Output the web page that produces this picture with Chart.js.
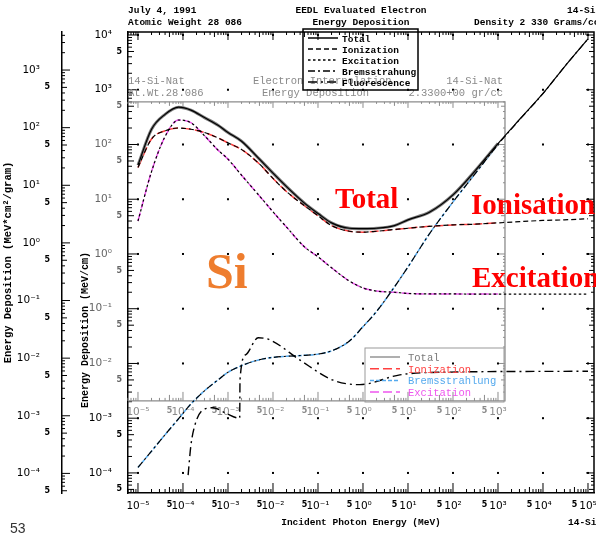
<!DOCTYPE html>
<html>
<head>
<meta charset="utf-8">
<script src="https://cdn.jsdelivr.net/npm/chart.js@4.4.1/dist/chart.umd.min.js"></script>
<style>
  html, body { margin: 0; padding: 0; background: #fff; }
</style>
</head>
<body>
<canvas id="edep" width="596" height="533"></canvas>
<script>
// incident electron energy grid (MeV) for the main components
const energy = [1e-5, 2e-5, 4e-5, 8e-5, 1.5e-4, 3e-4, 6e-4, 1e-3, 2e-3, 5e-3, 1e-2, 2e-2, 5e-2, 0.1, 0.2, 0.5, 1, 2, 5, 10, 30, 100, 300, 1000, 3000, 1e4, 3e4, 1e5];

// energy deposition in MeV/cm
const total = [42, 190, 355, 480, 425, 310, 225, 166, 115, 54, 30, 17, 8.5, 5.5, 3.7, 2.95, 2.9, 2.95, 3.3, 4.2, 5.8, 12, 32, 104, 286, 855, 2630, 8500];
const ionization = [38, 126, 178, 200, 190, 166, 132, 107, 81, 44, 24, 13.8, 7.6, 5.0, 3.3, 2.6, 2.5, 2.6, 2.8, 2.95, 3.2, 3.4, 3.5, 3.7, 3.9, 4.1, 4.2, 4.4];
const excitation = [4.0, 32, 140, 280, 250, 145, 79, 54, 27.5, 11.5, 5.9, 3.1, 1.35, 0.89, 0.56, 0.32, 0.24, 0.21, 0.2, 0.19, 0.186, 0.186, 0.185, 0.185, 0.185, 0.185, 0.185, 0.185];
const bremsstrahlung = [1.26e-4, 2.5e-4, 5.0e-4, 9.8e-4, 1.82e-3, 3.16e-3, 5.0e-3, 6.9e-3, 9.1e-3, 1.17e-2, 1.29e-2, 1.35e-2, 1.41e-2, 1.48e-2, 1.7e-2, 2.57e-2, 4.7e-2, 8.9e-2, 0.25, 0.58, 2.34, 8.9, 28.2, 100, 282, 851, 2630, 8510];

// fluorescence starts later and jumps at the K edge
const fluorEnergy = [1.3e-4, 1.5e-4, 1.85e-4, 2.75e-4, 4.7e-4, 8.5e-4, 1.82e-3, 1.85e-3, 2.5e-3, 4.7e-3, 8.5e-3, 4e-2, 0.21, 0.85, 6.6, 51, 1e5];
const fluorescence = [9.1e-5, 3.2e-4, 7.6e-4, 1.41e-3, 1.55e-3, 1.26e-3, 1.0e-3, 5.0e-3, 1.45e-2, 2.95e-2, 2.7e-2, 1.15e-2, 5.0e-3, 4.1e-3, 6.2e-3, 6.9e-3, 7.2e-3];

// the interpolated set only goes up to this energy (MeV)
const innerMaxEnergy = 1000;
// inner plot frame, in data units
const innerFrame = { xMax: 1430, yMin: 2.07e-3, yMax: 600 };

const SUP = { '-': '\u207B', '0': '\u2070', '1': '\u00B9', '2': '\u00B2', '3': '\u00B3', '4': '\u2074', '5': '\u2075', '6': '\u2076', '7': '\u2077', '8': '\u2078', '9': '\u2079' };

function splitLog(v) {
  const e = Math.floor(Math.log10(v) + 1e-9);
  return { e, m: Math.round(v / Math.pow(10, e)) };
}
function powLabel(e) {
  return '10' + String(e).split('').map(c => SUP[c]).join('');
}
function tickLabel(v, pad) {
  const { e, m } = splitLog(v);
  if (m === 1) return powLabel(e) + (pad || '');
  if (m === 5) return '5';
  return '';
}
// decade labels normal, the "5" labels small and bold
function tickFont(c) {
  const five = c.tick && splitLog(c.tick.value).m === 5;
  return five ? { family: 'DejaVu Sans', size: 8, weight: 'bold' } : { family: 'DejaVu Sans', size: 10.5 };
}
// 1..9 x 10^n ticks over the scale range
function logTicks(scale) {
  const ticks = [];
  const lo = Math.floor(Math.log10(scale.min)), hi = Math.ceil(Math.log10(scale.max));
  for (let e = lo; e <= hi; e++) {
    for (let m = 1; m <= 9; m++) {
      const v = m * Math.pow(10, e);
      if (v >= scale.min && v <= scale.max) ticks.push({ value: v, major: m === 1 });
    }
  }
  scale.ticks = ticks;
}
function noPad(s) {
  s.paddingLeft = 0; s.paddingRight = 0; s.paddingTop = 0; s.paddingBottom = 0;
}

const pts = (xs, ys) => xs.map((e, i) => ({ x: e, y: ys[i] }));
const innerPts = (xs, ys) => pts(xs, ys).filter(p => p.x <= innerMaxEnergy);

const MONO = '"Liberation Mono", "DejaVu Sans Mono", monospace';

function line(label, data, color, width, dash) {
  return {
    label, data,
    borderColor: color, borderWidth: width, borderDash: dash,
    pointRadius: 0, fill: false, cubicInterpolationMode: 'monotone'
  };
}

function drawTicks(ctx, scale, fixed, dir, horizontal, lens, lo, hi) {
  scale.ticks.forEach(t => {
    if (t.value < lo || t.value > hi) return;
    const p = scale.getPixelForValue(t.value);
    const { m } = splitLog(t.value);
    const len = m === 1 ? lens[0] : (m === 5 ? lens[1] : lens[2]);
    ctx.beginPath();
    if (horizontal) { ctx.moveTo(p, fixed); ctx.lineTo(p, fixed + dir * len); }
    else { ctx.moveTo(fixed, p); ctx.lineTo(fixed + dir * len, p); }
    ctx.stroke();
  });
}

function text(ctx, s, x, y, font, color, align) {
  ctx.font = font;
  ctx.fillStyle = color;
  ctx.textAlign = align || 'left';
  ctx.textBaseline = 'alphabetic';
  ctx.fillText(s, x, y);
}

const decor = {
  id: 'decor',
  beforeDatasetsDraw(chart) {
    const { ctx, chartArea: a, scales } = chart;
    const { x, y, y2 } = scales;
    ctx.save();

    // outer frame, top and right
    ctx.strokeStyle = '#000';
    ctx.lineWidth = 1.5;
    ctx.beginPath();
    ctx.moveTo(a.left, a.top); ctx.lineTo(a.right, a.top); ctx.lineTo(a.right, a.bottom);
    ctx.stroke();

    // inward ticks on the outer frame
    ctx.lineWidth = 1;
    drawTicks(ctx, x, a.bottom, -1, true, [10, 6, 4], x.min, x.max);
    drawTicks(ctx, x, a.top, 1, true, [8, 5, 3], x.min, x.max);
    drawTicks(ctx, y, a.left, 1, false, [10, 6, 4], y.min, y.max);
    drawTicks(ctx, y, a.right, -1, false, [8, 5, 3], y.min, y.max);
    drawTicks(ctx, y2, y2.right, 1, false, [8, 5, 3], y2.min, y2.max);

    // grid marks at decades
    ctx.fillStyle = '#000';
    x.ticks.forEach(tx => {
      if (splitLog(tx.value).m !== 1) return;
      y.ticks.forEach(ty => {
        if (splitLog(ty.value).m !== 1) return;
        ctx.fillRect(x.getPixelForValue(tx.value) - 1, y.getPixelForValue(ty.value) - 1, 2, 2);
      });
    });

    // inner (interpolated) plot frame
    const il = a.left;
    const ir = x.getPixelForValue(innerFrame.xMax);
    const it = y.getPixelForValue(innerFrame.yMax);
    const ib = y.getPixelForValue(innerFrame.yMin);
    ctx.strokeStyle = '#8c8c8c';
    ctx.lineWidth = 1.3;
    ctx.beginPath();
    ctx.moveTo(il, it); ctx.lineTo(ir, it); ctx.lineTo(ir, ib); ctx.lineTo(il, ib);
    ctx.stroke();
    ctx.lineWidth = 1;
    drawTicks(ctx, x, ib, -1, true, [9, 6, 3], x.min, innerFrame.xMax);
    drawTicks(ctx, x, it, 1, true, [6, 4, 2], x.min, innerFrame.xMax);
    drawTicks(ctx, y, ir, -1, false, [6, 4, 2], innerFrame.yMin, innerFrame.yMax);

    // interpolation header inside the frame
    const gf = '10.5px ' + MONO, gc = '#8a8a8a';
    text(ctx, '14-Si-Nat', il, it - 18, gf, gc);
    text(ctx, 'At.Wt.28.086', il, it - 6, gf, gc);
    text(ctx, 'Electron Interpolation', 253, it - 18, gf, gc);
    text(ctx, 'Energy Deposition', 262, it - 6, gf, gc);
    text(ctx, '14-Si-Nat', ir - 2, it - 18, gf, gc, 'right');
    text(ctx, '2.3300+00 gr/cc', ir - 2, it - 6, gf, gc, 'right');
    ctx.restore();
  },
  afterDatasetsDraw(chart) {
    const { ctx } = chart;
    const ds = chart.data.datasets;
    ctx.save();

    // page header
    const hf = 'bold 9.5px ' + MONO;
    text(ctx, 'July 4, 1991', 128, 13, hf, '#000');
    text(ctx, 'Atomic Weight 28 086', 128, 25, hf, '#000');
    text(ctx, 'EEDL Evaluated Electron', 361, 13, hf, '#000', 'center');
    text(ctx, 'Energy Deposition', 361, 25, hf, '#000', 'center');
    text(ctx, '14-Si', 567, 13, hf, '#000');
    text(ctx, 'Density 2 330 Grams/cc', 474, 25, hf, '#000');

    // legend of the evaluated set
    ctx.strokeStyle = '#000';
    ctx.lineWidth = 1.5;
    ctx.strokeRect(303, 29, 115, 61);
    ds.slice(0, 5).forEach((d, i) => {
      const yy = 38 + i * 11;
      ctx.setLineDash(d.borderDash || []);
      ctx.lineWidth = 1.5;
      ctx.strokeStyle = '#000';
      ctx.beginPath(); ctx.moveTo(308, yy); ctx.lineTo(338, yy); ctx.stroke();
      ctx.setLineDash([]);
      text(ctx, d.label, 342, yy + 3.5, hf, '#000');
    });

    // legend of the interpolated set
    ctx.strokeStyle = '#9a9a9a';
    ctx.lineWidth = 1;
    ctx.strokeRect(365, 348, 139, 54);
    ds.slice(5).forEach((d, i) => {
      const yy = 357 + i * 11.7;
      ctx.setLineDash(d.borderDash || []);
      ctx.lineWidth = d.label === 'Total' ? 1.2 : 1.5;
      ctx.strokeStyle = d.borderColor;
      ctx.beginPath(); ctx.moveTo(370, yy); ctx.lineTo(400, yy); ctx.stroke();
      ctx.setLineDash([]);
      text(ctx, d.label, 408, yy + 4, '10.5px ' + MONO, d.borderColor);
    });

    // rotated title of the MeV/cm axis
    ctx.save();
    ctx.translate(88, 330);
    ctx.rotate(-Math.PI / 2);
    text(ctx, 'Energy Deposition (MeV/cm)', 0, 0, 'bold 10px ' + MONO, '#000', 'center');
    ctx.restore();

    // annotations
    const big = 'bold 29px "Liberation Serif", "DejaVu Serif", serif';
    text(ctx, 'Total', 335, 208, big, '#ff0000');
    text(ctx, 'Ionisation', 471, 214, big, '#ff0000');
    text(ctx, 'Excitation', 472, 287, big, '#ff0000');
    text(ctx, 'Si', 206, 288, 'bold 50px "Liberation Serif", "DejaVu Serif", serif', '#ee7d2e');
    text(ctx, '14-Si', 568, 525, 'bold 9.5px ' + MONO, '#000');
    text(ctx, '53', 10, 533, '14px "Liberation Sans", Arial, sans-serif', '#333');
    ctx.restore();
  }
};

const ctx = document.getElementById('edep').getContext('2d');
new Chart(ctx, {
  type: 'line',
  data: {
    datasets: [
      line('Total', pts(energy, total), '#000', 1.2, []),
      line('Ionization', pts(energy, ionization), '#000', 1.2, [5, 3]),
      line('Excitation', pts(energy, excitation), '#000', 1.2, [2.5, 2.5]),
      line('Bremsstrahung', pts(energy, bremsstrahlung), '#000', 1.2, [7, 3, 2, 3]),
      line('Fluorescence', pts(fluorEnergy, fluorescence), '#000', 1.4, [9, 4, 2, 4]),
      line('Total', innerPts(energy, total), '#7a7a7a', 3, []),
      line('Ionization', innerPts(energy, ionization), '#ff4040', 1.5, [9, 4]),
      line('Bremsstrahlung', innerPts(energy, bremsstrahlung), '#55aaee', 1.5, [4, 2]),
      line('Excitation', innerPts(energy, excitation), '#ee55ee', 1.5, [9, 4])
    ]
  },
  options: {
    responsive: false,
    animation: false,
    devicePixelRatio: 1,
    layout: { padding: { top: 32, right: 2, left: 0, bottom: 0 } },
    plugins: { legend: { display: false }, tooltip: { enabled: false } },
    scales: {
      x: {
        type: 'logarithmic',
        position: 'bottom',
        min: 6.0e-6,
        max: 1.36e5,
        afterBuildTicks: logTicks,
        afterFit: s => { s.height = 40; noPad(s); },
        grid: { display: false, drawTicks: false },
        border: { display: true, color: '#000', width: 1.5 },
        ticks: {
          autoSkip: false, maxRotation: 0, padding: 7, color: '#000',
          font: tickFont,
          callback: v => tickLabel(v)
        },
        title: {
          display: true, text: 'Incident Photon Energy (MeV)', color: '#000',
          font: { family: MONO, size: 9.5, weight: 'bold' }, padding: { top: 0, bottom: 5 }
        }
      },
      // interpolated-set energy labels along the inner frame
      x2: {
        type: 'logarithmic',
        position: { y: innerFrame.yMin },
        min: 6.0e-6,
        max: 1.36e5,
        afterBuildTicks: s => { logTicks(s); s.ticks = s.ticks.filter(t => t.value <= innerMaxEnergy); },
        afterFit: noPad,
        grid: { display: false, drawTicks: false },
        border: { display: false },
        ticks: {
          autoSkip: false, maxRotation: 0, padding: 5, color: '#8a8a8a',
          font: tickFont,
          callback: v => tickLabel(v)
        }
      },
      y: {
        type: 'logarithmic',
        position: 'left',
        weight: 0,
        min: 4.3e-5,
        max: 1.135e4,
        afterBuildTicks: logTicks,
        afterFit: s => { s.width = 66; noPad(s); },
        grid: { display: false, drawTicks: false },
        border: { display: true, color: '#000', width: 1.5 },
        ticks: {
          autoSkip: false, padding: 6,
          font: tickFont,
          color: c => (c.tick && c.tick.value > 4e-3 && c.tick.value < 700) ? '#666' : '#000',
          callback: v => tickLabel(v, '   ')
        }
      },
      // same quantity per unit mass
      y2: {
        type: 'logarithmic',
        position: 'left',
        weight: 1,
        min: 4.57e-5,
        max: 4571,
        afterBuildTicks: logTicks,
        afterFit: s => { s.width = 62; noPad(s); },
        grid: { display: false, drawTicks: false },
        border: { display: true, color: '#000', width: 1.5 },
        ticks: {
          autoSkip: false, padding: 12, color: '#000',
          font: tickFont,
          callback: v => tickLabel(v, '   ')
        },
        title: {
          display: true, text: 'Energy Deposition (MeV*cm\u00B2/gram)', color: '#000',
          font: { family: MONO, size: 10.5, weight: 'bold' }, padding: { top: 2, bottom: 0 }
        }
      }
    }
  },
  plugins: [decor]
});
</script>
</body>
</html>
